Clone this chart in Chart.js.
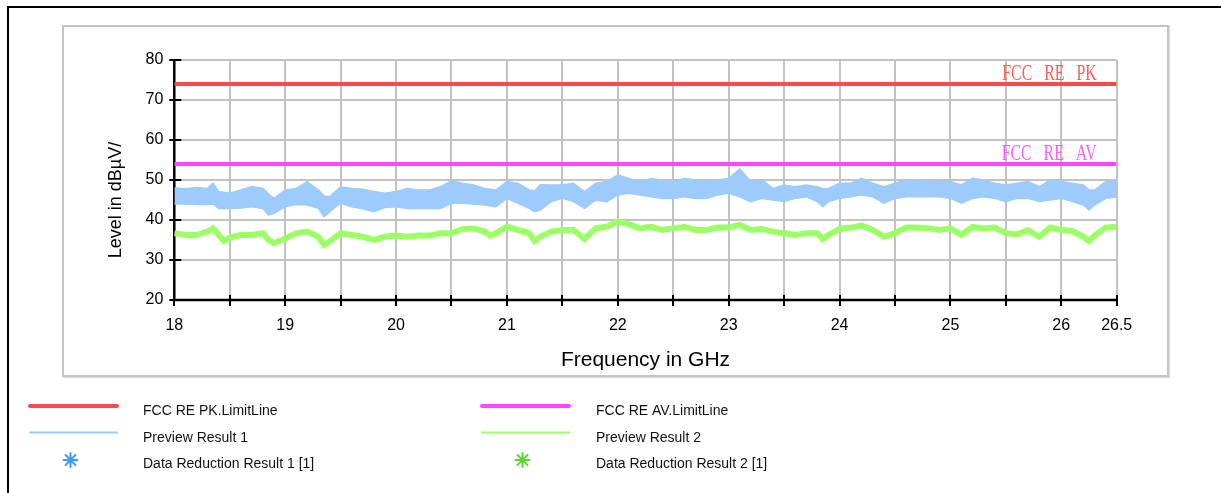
<!DOCTYPE html>
<html>
<head>
<meta charset="utf-8">
<title>Radiated emission 18 - 26.5 GHz</title>
<script src="https://cdn.jsdelivr.net/npm/chart.js@4.4.1/dist/chart.umd.min.js"></script>
<style>
  body { margin: 0; background: #fff; }
  #wrap { position: relative; width: 1221px; height: 493px; overflow: hidden; }
  #frame { position: absolute; left: 7px; top: 6px; width: 1240px; height: 520px;
           border-left: 2px solid #000; border-top: 2px solid #000; }
  #box { position: absolute; left: 62px; top: 25px; width: 1107px; height: 352px; box-sizing: border-box;
         border: 2px solid #c4c4c4; box-shadow: 1px 1px 1px #dcdcdc; }
  #chart { position: absolute; left: 0; top: 0; }
</style>
</head>
<body>
<div id="wrap">
  <div id="frame"></div>
  <div id="box"></div>
  <canvas id="chart" width="1221" height="493"></canvas>
</div>
<script>
// limit lines (dBµV/m)
const pkLimit = 74;
const avLimit = 54;

// Preview Result 1 - peak trace, upper/lower edge of the noise band
const preview1Freq = [18.0, 18.1, 18.2, 18.3, 18.35, 18.4, 18.5, 18.6, 18.7, 18.8, 18.85, 18.9,
  19.0, 19.1, 19.2, 19.3, 19.35, 19.4, 19.5, 19.6, 19.7, 19.8, 19.9,
  20.0, 20.1, 20.2, 20.3, 20.4, 20.5, 20.6, 20.7, 20.8, 20.9,
  21.0, 21.1, 21.2, 21.25, 21.3, 21.4, 21.5, 21.6, 21.7, 21.8, 21.9,
  22.0, 22.1, 22.2, 22.3, 22.4, 22.5, 22.6, 22.7, 22.8, 22.9,
  23.0, 23.1, 23.2, 23.3, 23.4, 23.5, 23.6, 23.7, 23.8, 23.85, 23.9,
  24.0, 24.1, 24.2, 24.3, 24.4, 24.5, 24.6, 24.7, 24.8, 24.9,
  25.0, 25.1, 25.2, 25.3, 25.4, 25.5, 25.6, 25.7, 25.8, 25.9,
  26.0, 26.1, 26.2, 26.25, 26.3, 26.4, 26.5];
const preview1High = [48.0, 47.8, 48.1, 47.9, 49.2, 47.1, 46.7, 47.5, 48.4, 47.9, 46.5, 45.4,
  47.5, 47.9, 49.6, 47.5, 46.0, 45.8, 48.3, 47.9, 47.7, 47.1, 46.7,
  47.1, 47.9, 47.5, 47.5, 48.3, 49.8, 49.2, 48.75, 47.9, 47.5,
  49.6, 49.2, 47.5, 47.3, 48.8, 48.75, 48.75, 49.2, 47.1, 49.2, 49.6,
  51.25, 50.4, 49.6, 50.4, 50.0, 49.6, 50.4, 50.0, 49.6, 50.0,
  50.4, 52.75, 49.6, 50.0, 47.9, 48.75, 48.3, 48.75, 48.3, 47.8, 47.9,
  49.2, 49.2, 50.4, 49.2, 48.3, 49.2, 50.0, 50.0, 49.6, 49.6,
  49.6, 48.75, 50.4, 50.0, 49.2, 48.75, 49.2, 49.6, 48.3, 50.0,
  49.6, 49.2, 48.75, 47.5, 47.5, 49.6, 50.0];
const preview1Low = [44.0, 44.0, 43.9, 43.9, 44.0, 42.9, 42.9, 43.0, 43.3, 42.9, 41.3, 41.7,
  43.3, 43.9, 43.75, 42.9, 40.8, 42.0, 44.2, 43.3, 42.8, 42.1, 43.1,
  43.3, 42.9, 42.9, 42.9, 42.9, 44.2, 44.2, 44.0, 43.75, 43.3,
  45.4, 44.2, 42.9, 42.1, 42.5, 44.6, 45.4, 44.6, 42.9, 45.0, 44.6,
  46.25, 46.7, 46.25, 45.8, 45.4, 45.4, 45.8, 45.4, 45.4, 46.25,
  46.7, 45.8, 44.6, 45.4, 45.0, 44.6, 45.4, 45.8, 44.6, 43.3, 44.6,
  45.4, 45.8, 46.25, 45.8, 44.2, 45.4, 45.8, 45.8, 45.8, 45.8,
  45.4, 44.2, 45.4, 45.8, 45.4, 44.6, 45.4, 45.4, 44.6, 45.0,
  45.4, 44.6, 43.75, 42.5, 43.75, 45.4, 45.8];

// Preview Result 2 - average trace
const preview2Freq = [18.0, 18.1, 18.2, 18.3, 18.35, 18.4, 18.45, 18.5, 18.6, 18.7, 18.8, 18.85, 18.9,
  19.0, 19.1, 19.2, 19.3, 19.35, 19.4, 19.5, 19.6, 19.7, 19.8, 19.9,
  20.0, 20.1, 20.2, 20.3, 20.4, 20.5, 20.6, 20.7, 20.8, 20.85, 20.9,
  21.0, 21.1, 21.2, 21.25, 21.3, 21.4, 21.5, 21.6, 21.7, 21.8, 21.9,
  22.0, 22.1, 22.2, 22.3, 22.4, 22.5, 22.6, 22.7, 22.8, 22.9,
  23.0, 23.1, 23.2, 23.3, 23.4, 23.5, 23.6, 23.7, 23.8, 23.85, 23.9,
  24.0, 24.1, 24.2, 24.3, 24.4, 24.5, 24.6, 24.7, 24.8, 24.9,
  25.0, 25.1, 25.2, 25.3, 25.4, 25.5, 25.6, 25.7, 25.8, 25.9,
  26.0, 26.1, 26.2, 26.25, 26.3, 26.4, 26.5];
const preview2Level = [36.7, 36.25, 36.25, 37.1, 37.9, 36.25, 34.75, 35.6, 36.25, 36.25, 36.7, 35.0, 34.2,
  35.4, 36.7, 37.1, 35.8, 33.75, 34.6, 36.7, 36.25, 35.8, 35.0, 35.8,
  36.1, 35.8, 36.1, 36.1, 36.7, 36.7, 37.75, 37.9, 37.1, 36.1, 36.7,
  38.3, 37.5, 36.7, 34.75, 35.8, 37.1, 37.5, 37.5, 35.25, 37.9, 38.3,
  39.6, 38.9, 37.9, 38.3, 37.5, 37.9, 38.3, 37.5, 37.5, 38.1,
  38.1, 38.75, 37.5, 37.75, 37.1, 36.7, 36.25, 36.7, 36.7, 35.25, 36.25,
  37.75, 38.1, 38.6, 37.5, 35.8, 36.7, 38.1, 38.1, 37.9, 37.5,
  37.9, 36.25, 38.3, 37.9, 38.1, 36.7, 36.4, 37.5, 35.8, 38.1,
  37.5, 37.25, 35.8, 34.75, 36.1, 38.1, 38.3];

// axis ranges and labelled ticks
const freqRange = [18, 26.5];
const levelRange = [20, 80];
const freqLabels = [18, 19, 20, 21, 22, 23, 24, 25, 26, 26.5];
const levelLabels = [20, 30, 40, 50, 60, 70, 80];

const RED = '#ff4a4a';
const MAGENTA = '#ff47ff';
const BLUE = '#9ccbfc';
const GREEN = '#9cff66';

const toPoints = (xs, ys) => xs.map((f, i) => ({ x: f, y: ys[i] }));
const flat = (v) => freqRange.map(f => ({ x: f, y: v }));

Chart.defaults.font.family = '"Liberation Sans", Arial, sans-serif';
Chart.defaults.color = '#000';

// axis lines with crossing tick marks
const axisLines = {
  id: 'axisLines',
  beforeDatasetsDraw(chart) {
    const { ctx, chartArea: a, scales: { x, y } } = chart;
    ctx.save();
    ctx.strokeStyle = '#000';
    ctx.lineWidth = 2.5;
    ctx.beginPath();
    ctx.moveTo(a.left, a.top - 1);
    ctx.lineTo(a.left, a.bottom);
    ctx.lineTo(a.right + 1, a.bottom);
    ctx.stroke();
    ctx.lineWidth = 2;
    ctx.beginPath();
    x.ticks.forEach(t => {
      const px = Math.round(x.getPixelForValue(t.value));
      ctx.moveTo(px, a.bottom - 5);
      ctx.lineTo(px, a.bottom + 6);
    });
    y.ticks.forEach(t => {
      const py = Math.round(y.getPixelForValue(t.value));
      ctx.moveTo(a.left - 5, py);
      ctx.lineTo(a.left + 7, py);
    });
    ctx.stroke();
    ctx.restore();
  }
};

// names of the limit lines, written above them at the right end
const limitTags = {
  id: 'limitTags',
  afterDatasetsDraw(chart) {
    const { ctx, chartArea: a, scales: { y } } = chart;
    ctx.save();
    ctx.font = '24px "Liberation Serif", "DejaVu Serif", serif';
    ctx.textBaseline = 'alphabetic';
    chart.data.datasets.forEach(ds => {
      if (!ds.tag) return;
      const words = ds.tag.split(' ');
      const sx = 0.66, gap = 12;
      const widths = words.map(w => ctx.measureText(w).width * sx);
      const total = widths.reduce((s, w) => s + w, 0) + gap * (words.length - 1);
      let x0 = a.right - 20 - total;
      const base = y.getPixelForValue(ds.data[0].y) - 4;
      ctx.fillStyle = ds.tagColor;
      words.forEach((w, i) => {
        ctx.save();
        ctx.translate(x0, base);
        ctx.scale(sx, 1);
        ctx.fillText(w, 0, 0);
        ctx.restore();
        x0 += widths[i] + gap;
      });
    });
    ctx.restore();
  }
};

// vertical axis title, drawn by hand so it can sit below the plot centre
const levelTitle = {
  id: 'levelTitle',
  afterDraw(chart) {
    const { ctx } = chart;
    ctx.save();
    ctx.translate(116, 200);
    ctx.rotate(-Math.PI / 2);
    ctx.font = '18px "Liberation Sans", Arial, sans-serif';
    ctx.fillStyle = '#000';
    ctx.textAlign = 'center';
    ctx.textBaseline = 'middle';
    ctx.fillText('Level in dBµV/', 0, 0);
    ctx.restore();
  }
};

// two-column legend under the plot frame
const traceLegend = {
  id: 'traceLegend',
  afterDraw(chart) {
    const { ctx } = chart;
    const lineX = [30, 482], lineLen = 87, textX = [143, 596];
    const rowY = [406, 432.5, 460], textY = [411.5, 438, 464];
    ctx.save();
    ctx.font = '14px "Liberation Sans", Arial, sans-serif';
    ctx.textBaseline = 'middle';
    chart.data.datasets.forEach(ds => {
      if (!ds.legend) return;
      const { col, row, kind } = ds.legend;
      if (kind === 'line') {
        ctx.strokeStyle = ds.borderColor;
        ctx.lineWidth = ds.legend.width;
        ctx.lineCap = 'round';
        ctx.beginPath();
        ctx.moveTo(lineX[col], rowY[row]);
        ctx.lineTo(lineX[col] + lineLen, rowY[row]);
        ctx.stroke();
      } else {
        ctx.strokeStyle = ds.borderColor;
        ctx.fillStyle = ds.borderColor;
        Chart.helpers.drawPoint(ctx, { pointStyle: 'star', radius: 7, rotation: 0, borderWidth: 1.6 },
          lineX[col] + lineLen / 2 - 3, rowY[row]);
      }
      ctx.fillStyle = '#111';
      ctx.fillText(ds.label, textX[col], textY[row]);
    });
    ctx.restore();
  }
};

new Chart(document.getElementById('chart'), {
  type: 'line',
  data: {
    datasets: [
      {
        label: 'FCC RE PK.LimitLine', tag: 'FCC RE PK', tagColor: '#ff5c5c',
        data: flat(pkLimit), borderColor: RED, borderWidth: 4, pointRadius: 0, order: 0,
        legend: { col: 0, row: 0, kind: 'line', width: 4 }
      },
      {
        label: 'FCC RE AV.LimitLine', tag: 'FCC RE AV', tagColor: '#ff5cff',
        data: flat(avLimit), borderColor: MAGENTA, borderWidth: 4, pointRadius: 0, order: 0,
        legend: { col: 1, row: 0, kind: 'line', width: 4 }
      },
      {
        label: 'Preview Result 1',
        data: toPoints(preview1Freq, preview1High), borderColor: BLUE, backgroundColor: BLUE,
        borderWidth: 1.5, pointRadius: 0, fill: '+1', order: 3,
        legend: { col: 0, row: 1, kind: 'line', width: 2 }
      },
      {
        label: 'Preview Result 1 (lower)',
        data: toPoints(preview1Freq, preview1Low), borderColor: BLUE,
        borderWidth: 1.5, pointRadius: 0, fill: false, order: 3
      },
      {
        label: 'Preview Result 2',
        data: toPoints(preview2Freq, preview2Level), borderColor: GREEN,
        borderWidth: 6, pointRadius: 0, order: 2,
        legend: { col: 1, row: 1, kind: 'line', width: 2 }
      },
      {
        label: 'Data Reduction Result 1 [1]', data: [], borderColor: '#3d9cf0',
        showLine: false, pointStyle: 'star', legend: { col: 0, row: 2, kind: 'star' }
      },
      {
        label: 'Data Reduction Result 2 [1]', data: [], borderColor: '#5fd23a',
        showLine: false, pointStyle: 'star', legend: { col: 1, row: 2, kind: 'star' }
      }
    ]
  },
  options: {
    responsive: false,
    animation: false,
    layout: { padding: { left: 110, right: 104.3, top: 60, bottom: 116.4 } },
    plugins: { legend: { display: false }, tooltip: { enabled: false } },
    elements: { line: { tension: 0 } },
    scales: {
      x: {
        type: 'linear', min: freqRange[0], max: freqRange[1],
        grid: { color: '#c2c2c2', lineWidth: 2, drawTicks: false },
        border: { display: false },
        ticks: {
          stepSize: 0.5, autoSkip: false, maxRotation: 0, padding: 16,
          font: { size: 16 },
          callback: v => freqLabels.includes(v) ? String(v) : ''
        },
        title: { display: true, text: 'Frequency in GHz', font: { size: 21 }, padding: { top: 0, bottom: 4 } },
        afterFit: s => { s.height = 76.6; }
      },
      y: {
        type: 'linear', min: levelRange[0], max: levelRange[1],
        grid: { color: '#c2c2c2', lineWidth: 2, drawTicks: false },
        border: { display: false },
        ticks: {
          stepSize: 5, padding: 11, font: { size: 16 },
          callback: v => levelLabels.includes(v) ? String(v) : ''
        },
        afterFit: s => { s.width = 64.3; }
      }
    }
  },
  plugins: [axisLines, limitTags, levelTitle, traceLegend]
});
</script>
</body>
</html>
